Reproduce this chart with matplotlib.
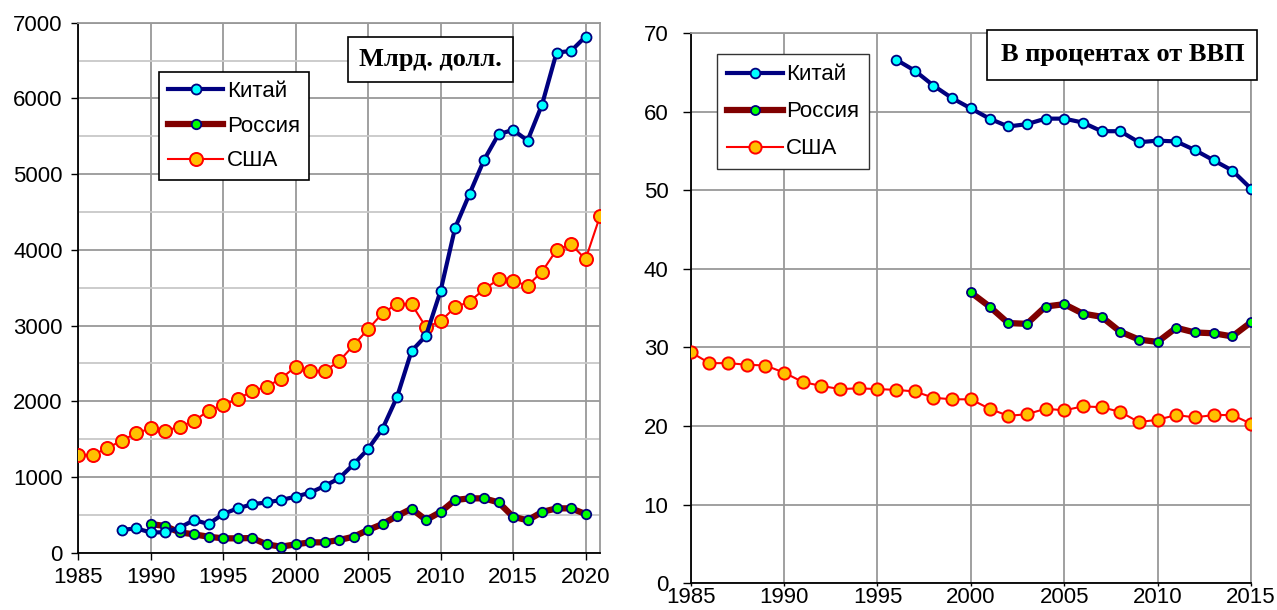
import numpy as np
import matplotlib
matplotlib.use('Agg')
import matplotlib.pyplot as plt
import matplotlib.ticker as mticker

plt.rcParams['font.family'] = ['Liberation Sans', 'DejaVu Sans']

# left panel: billions of dollars
years_cn_l = list(range(1988, 2021))
china_l = [300, 322, 269, 269, 330, 432, 379, 511, 586, 639, 665, 696, 740, 793, 881,
           982, 1167, 1370, 1638, 2057, 2664, 2867, 3457, 4289, 4739, 5188, 5527, 5584,
           5443, 5919, 6605, 6627, 6816]
years_ru_l = list(range(1990, 2021))
russia_l = [379, 353, 269, 243, 211, 190, 190, 194, 111, 79, 111, 137, 137, 168, 211,
            300, 379, 485, 581, 432, 538, 696, 718, 718, 665, 476, 428, 538, 586, 586, 511]
years_us_l = list(range(1985, 2022))
usa_l = [1291, 1291, 1379, 1480, 1577, 1643, 1608, 1665, 1740, 1876, 1951, 2026, 2136,
         2193, 2299, 2457, 2400, 2400, 2528, 2740, 2951, 3163, 3285, 3285, 2977, 3057,
         3242, 3316, 3479, 3611, 3589, 3527, 3712, 3999, 4074, 3876, 4448]

# right panel: percent of GDP
years_cn_r = list(range(1996, 2016))
china_r = [66.6, 65.2, 63.3, 61.7, 60.4, 59.1, 58.1, 58.4, 59.1, 59.1, 58.6, 57.5, 57.5,
           56.1, 56.3, 56.2, 55.1, 53.8, 52.5, 50.2]
years_ru_r = list(range(2000, 2016))
russia_r = [37.0, 35.2, 33.1, 33.0, 35.2, 35.5, 34.3, 33.9, 32.0, 31.0, 30.7, 32.5, 31.9,
            31.8, 31.4, 33.2]
years_us_r = list(range(1985, 2016))
usa_r = [29.4, 28.0, 28.0, 27.8, 27.7, 26.8, 25.6, 25.1, 24.7, 24.8, 24.7, 24.6, 24.4,
         23.6, 23.4, 23.4, 22.2, 21.3, 21.5, 22.2, 22.0, 22.5, 22.4, 21.8, 20.5, 20.8,
         21.4, 21.1, 21.4, 21.4, 20.3]

labels = ['Китай', 'Россия', 'США']

fig = plt.figure(figsize=(12.77, 6.10), dpi=100)
ax1 = fig.add_axes([0.0611, 0.0939, 0.4088, 0.8689])
ax2 = fig.add_axes([0.5409, 0.0438, 0.4387, 0.9022])


def style_axes(ax):
    ax.grid(True, which='major', color='#999999', linewidth=1.3)
    ax.set_axisbelow(True)
    for s in ['top', 'right']:
        ax.spines[s].set_color('#999999')
        ax.spines[s].set_linewidth(1.3)
    for s in ['left', 'bottom']:
        ax.spines[s].set_color('black')
        ax.spines[s].set_linewidth(1.3)
    ax.tick_params('both', labelsize=16, length=5, width=1, direction='out')


def draw(ax, xc, yc, xr, yr, xu, yu, ms_us, ms_cn, ms_ru):
    l3, = ax.plot(xu, yu, color='red', linewidth=1.5, marker='o', markersize=ms_us,
                  markerfacecolor='#FFC000', markeredgecolor='red', markeredgewidth=1.4,
                  label=labels[2], zorder=3)
    l2, = ax.plot(xr, yr, color='#800000', linewidth=4.5, marker='o', markersize=ms_ru,
                  markerfacecolor='#00FF00', markeredgecolor='#000080', markeredgewidth=1.3,
                  label=labels[1], zorder=4)
    l1, = ax.plot(xc, yc, color='#000080', linewidth=3.0, marker='o', markersize=ms_cn,
                  markerfacecolor='#00FFFF', markeredgecolor='#000080', markeredgewidth=1.3,
                  label=labels[0], zorder=5)
    return [l1, l2, l3]


# left
h = draw(ax1, years_cn_l, china_l, years_ru_l, russia_l, years_us_l, usa_l, 9.4, 7.2, 6.8)
style_axes(ax1)
ax1.set_xlim(1985, 2021)
ax1.set_ylim(0, 7000)
ax1.set_xticks(range(1985, 2021, 5))
ax1.set_yticks(range(0, 7001, 1000))
ax1.yaxis.set_minor_locator(mticker.MultipleLocator(500))
ax1.grid(True, which='minor', axis='y', color='#c8c8c8', linewidth=1.3)
ax1.tick_params(which='minor', length=0)
ax1.tick_params('y', pad=6)
ax1.tick_params('x', pad=5)
leg = ax1.legend(handles=h, loc='upper left', bbox_to_anchor=(0.155, 0.907),
                 fontsize=16, frameon=True, fancybox=False, edgecolor='black',
                 framealpha=1, handlelength=2.5, handletextpad=0.15, labelspacing=0.62,
                 borderpad=0.4, borderaxespad=0)
leg.get_frame().set_linewidth(1.2)
ax1.text(0.675, 0.930, 'Млрд. долл.', transform=ax1.transAxes, ha='center', va='center',
         fontsize=19, fontweight='bold', family='Liberation Serif',
         bbox=dict(boxstyle='square,pad=0.42', facecolor='white', edgecolor='black',
                   linewidth=1.2), zorder=10)

# right
h = draw(ax2, years_cn_r, china_r, years_ru_r, russia_r, years_us_r, usa_r, 8.8, 7.0, 6.5)
style_axes(ax2)
ax2.set_xlim(1985, 2015)
ax2.set_ylim(0, 70)
ax2.set_xticks(range(1985, 2016, 5))
ax2.set_yticks(range(0, 71, 10))
ax2.tick_params('x', pad=0.5, length=2)
ax2.tick_params('y', pad=10, length=6)
ax2.yaxis.set_major_formatter(mticker.FormatStrFormatter('%d'))
leg = ax2.legend(handles=h, loc='upper left', bbox_to_anchor=(0.047, 0.961),
                 fontsize=16, frameon=True, fancybox=False, edgecolor='#333333',
                 framealpha=1, handlelength=2.5, handletextpad=0.15, labelspacing=0.72,
                 borderpad=0.45, borderaxespad=0)
leg.get_frame().set_linewidth(1.0)
fig.text(0.8790, 0.910, 'В процентах от ВВП', ha='center', va='center',
         fontsize=19, fontweight='bold', family='Liberation Serif',
         bbox=dict(boxstyle='square,pad=0.5', facecolor='white', edgecolor='black',
                   linewidth=1.2), zorder=10)

fig.savefig('out.png', dpi=100)
